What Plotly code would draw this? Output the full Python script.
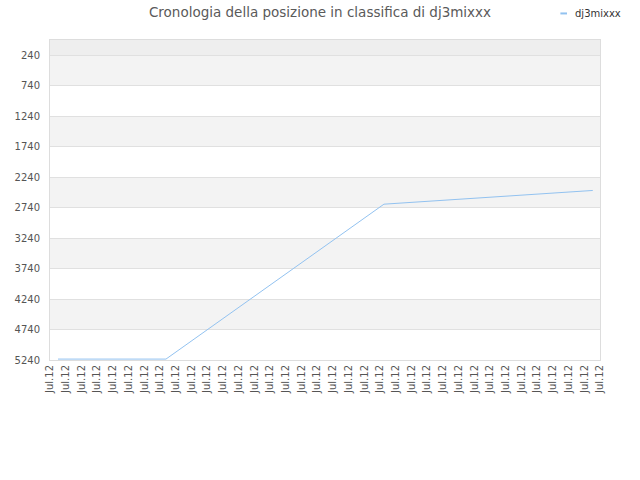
import plotly.graph_objects as go

# Data (x in tick-index units, y = chart position)
x_pos = [0.51, 7.38, 21.25, 34.54]
ranks = [5225, 5225, 2685, 2460]
n_ticks = 36
tick_labels = ["Jul.12"] * n_ticks
y_ticks = [240, 740, 1240, 1740, 2240, 2740, 3240, 3740, 4240, 4740, 5240]
series_name = "dj3mixxx"
title_text = "Cronologia della posizione in classifica di dj3mixxx"

line_color = "#92c2f0"
font_family = "DejaVu Sans"

fig = go.Figure()
fig.add_trace(go.Scatter(
    x=x_pos, y=ranks, mode="lines", name=series_name,
    line=dict(color=line_color, width=1), showlegend=False,
    hoverinfo="skip",
))

shapes = []
# shaded bands
band_pairs = [(-7, 240, "#eeeeee")] + [(y_ticks[i], y_ticks[i + 1], "#f3f3f3") for i in range(0, 10, 2)]
for y0, y1, col in band_pairs:
    shapes.append(dict(type="rect", xref="paper", yref="y", x0=0, x1=1, y0=y0, y1=y1,
                       fillcolor=col, line=dict(width=0), layer="below"))
# legend swatch
shapes.append(dict(type="line", xref="paper", yref="paper", x0=0.928, x1=0.94, y0=1.083, y1=1.083,
                   line=dict(color=line_color, width=2)))

fig.update_layout(
    width=640, height=480,
    margin=dict(l=50, r=40, t=40, b=120),
    paper_bgcolor="white", plot_bgcolor="white",
    title=dict(text=title_text, x=0.5, xref="container", xanchor="center", y=0.975, yanchor="middle",
               font=dict(family=font_family, size=13.5, color="#5a5a5a")),
    font=dict(family=font_family, size=10, color="#555555"),
    shapes=shapes,
    annotations=[dict(text=series_name, xref="paper", yref="paper", x=0.951, y=1.083,
                      xanchor="left", yanchor="middle", showarrow=False,
                      font=dict(family=font_family, size=10, color="#333333"))],
    showlegend=False,
)
fig.update_xaxes(
    range=[0, n_ticks - 1], tickmode="array", tickvals=list(range(n_ticks)), ticktext=tick_labels,
    tickangle=-90, showgrid=False, zeroline=False, showline=True, mirror=True,
    linecolor="#dddddd", linewidth=1, ticks="", tickfont=dict(size=10, color="#555555"),
)
fig.update_yaxes(
    range=[5240, -7], tickmode="array", tickvals=y_ticks, ticktext=[str(v) for v in y_ticks],
    showgrid=True, gridcolor="#e0e0e0", gridwidth=1, zeroline=False, showline=True, mirror=True,
    linecolor="#dddddd", linewidth=1, ticks="", ticklabelstandoff=7,
    tickfont=dict(size=10, color="#555555"),
)

fig.write_html("out.html", config={"displayModeBar": False},
               post_script="document.body.style.margin='0px';")
